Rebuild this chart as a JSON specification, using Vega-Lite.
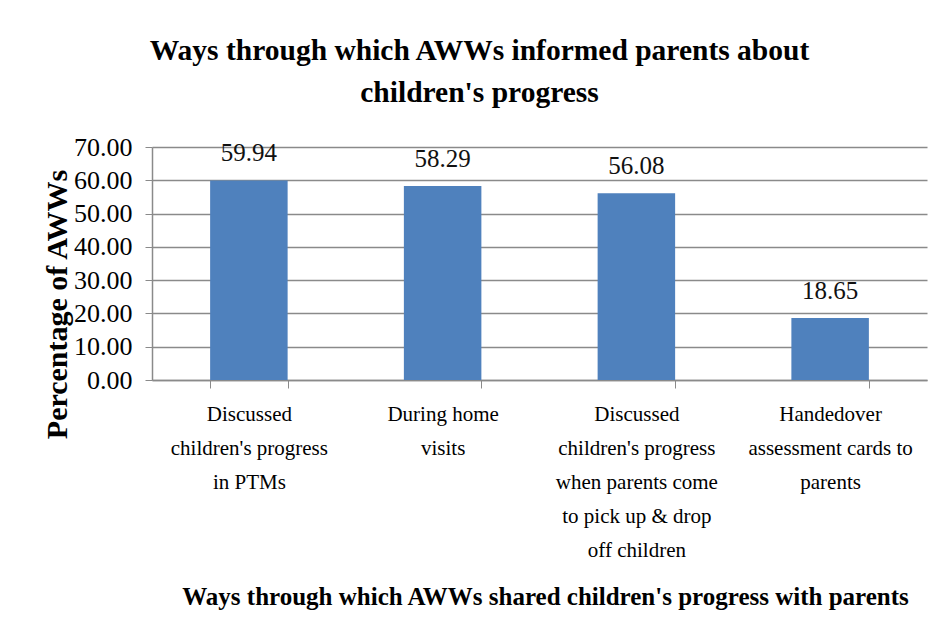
{
  "$schema": "https://vega.github.io/schema/vega-lite/v6.json",
  "width": 775,
  "height": 233,
  "autosize": {"type": "none"},
  "padding": {"left": 152, "top": 147, "right": 17, "bottom": 263},
  "background": "white",
  "title": {
    "text": ["Ways through which AWWs informed parents about", "children's progress"],
    "font": "Liberation Serif",
    "fontSize": 29.5,
    "fontWeight": "bold",
    "lineHeight": 42,
    "anchor": "middle",
    "frame": "group",
    "dx": -60,
    "offset": 26,
    "color": "black"
  },
  "data": {
    "values": [
      {"way": "Discussed|children's progress|in PTMs", "pct": 59.94},
      {"way": "During home|visits", "pct": 58.29},
      {"way": "Discussed|children's progress|when parents come|to pick up & drop|off children", "pct": 56.08},
      {"way": "Handedover|assessment cards to|parents", "pct": 18.65}
    ]
  },
  "encoding": {
    "x": {
      "field": "way",
      "type": "nominal",
      "sort": null,
      "scale": {"paddingInner": 0.6, "paddingOuter": 0.3},
      "axis": {
        "labelExpr": "split(datum.label, '|')",
        "labelAngle": 0,
        "labelFont": "Liberation Serif",
        "labelFontSize": 21,
        "labelLineHeight": 34,
        "labelPadding": 15,
        "labelBaseline": "top",
        "labelColor": "black",
        "labelLimit": 0,
        "tickSize": 8,
        "tickBand": "extent",
        "tickColor": "#8a8a8a",
        "domainColor": "#8a8a8a",
        "domainWidth": 1.5,
        "title": "Ways through which AWWs shared children's progress with parents",
        "titleFont": "Liberation Serif",
        "titleFontSize": 25,
        "titleFontWeight": "bold",
        "titleColor": "black",
        "titleX": 393,
        "titleY": 216,
        "titleBaseline": "middle",
        "titleAlign": "center"
      }
    },
    "y": {
      "field": "pct",
      "type": "quantitative",
      "scale": {"domain": [0, 70], "nice": false},
      "axis": {
        "values": [0, 10, 20, 30, 40, 50, 60, 70],
        "format": ".2f",
        "labelFont": "Liberation Serif",
        "labelFontSize": 26,
        "labelPadding": 13,
        "labelColor": "black",
        "tickSize": 7,
        "tickColor": "#8a8a8a",
        "domainColor": "#8a8a8a",
        "domainWidth": 1.5,
        "grid": true,
        "gridColor": "#8a8a8a",
        "gridWidth": 1.5,
        "title": "Percentage of AWWs",
        "titleFont": "Liberation Serif",
        "titleFontSize": 30,
        "titleFontWeight": "bold",
        "titleColor": "black",
        "titleAngle": -90,
        "titleX": -95,
        "titleY": 157,
        "titleAlign": "center",
        "titleBaseline": "middle"
      }
    }
  },
  "layer": [
    {"mark": {"type": "bar", "color": "#4F81BD"}},
    {
      "mark": {
        "type": "text",
        "font": "Liberation Serif",
        "fontSize": 25,
        "baseline": "alphabetic",
        "dy": -19,
        "color": "#111"
      },
      "encoding": {"text": {"field": "pct", "type": "quantitative", "format": ".2f"}}
    }
  ],
  "config": {"view": {"stroke": null}, "font": "Liberation Serif"}
}
